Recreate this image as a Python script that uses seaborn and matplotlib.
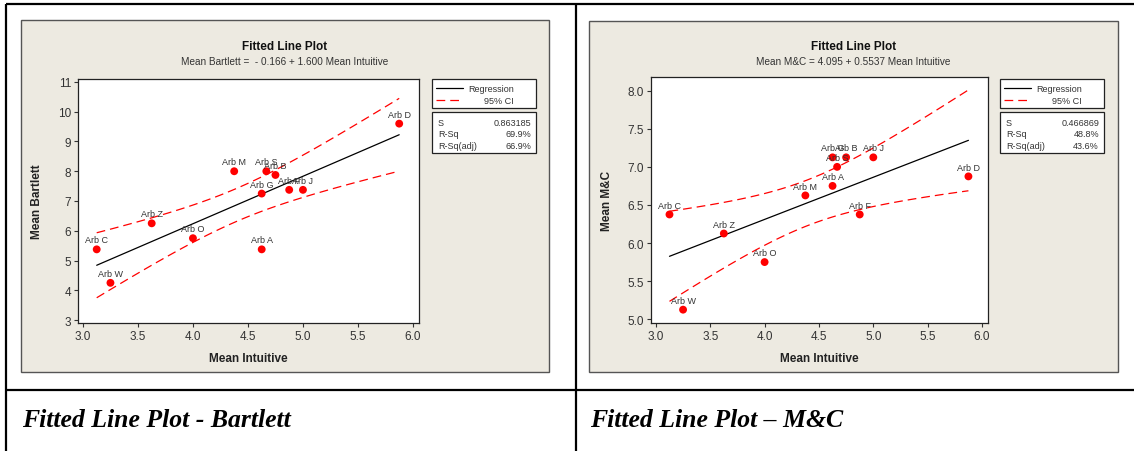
import numpy as np
import matplotlib
matplotlib.use("Agg")
import matplotlib.pyplot as plt
from matplotlib.patches import Rectangle
import seaborn as sns

W, H = 1134, 452

arb_names = ["Arb C", "Arb W", "Arb Z", "Arb O", "Arb M", "Arb A",
             "Arb G", "Arb S", "Arb B", "Arb J", "Arb F", "Arb D"]
mean_intuitive = [3.125, 3.25, 3.625, 4.0, 4.375, 4.625,
                  4.625, 4.667, 4.75, 5.0, 4.875, 5.875]
mean_bartlett = [5.375, 4.25, 6.25, 5.75, 8.0, 5.375,
                 7.25, 8.0, 7.875, 7.375, 7.375, 9.6]
mean_mc = [6.375, 5.125, 6.125, 5.75, 6.625, 6.75,
           7.125, 7.0, 7.125, 7.125, 6.375, 6.875]

x_ticks = [3.0, 3.5, 4.0, 4.5, 5.0, 5.5, 6.0]
bartlett_yticks = [3, 4, 5, 6, 7, 8, 9, 10, 11]
mc_yticks = [5.0, 5.5, 6.0, 6.5, 7.0, 7.5, 8.0]

stat_names = ["S", "R-Sq", "R-Sq(adj)"]
bartlett_stats = ["0.863185", "69.9%", "66.9%"]
mc_stats = ["0.466869", "48.8%", "43.6%"]
bartlett_eq = "Mean Bartlett =  - 0.166 + 1.600 Mean Intuitive"
mc_eq = "Mean M&C = 4.095 + 0.5537 Mean Intuitive"
captions = ["Fitted Line Plot - Bartlett", "Fitted Line Plot \u2013 M&C"]

sns.set_style("ticks")
plt.rcParams['font.family'] = ['Liberation Sans', 'DejaVu Sans']

PANEL = '#EDEAE1'
TXT = '#333333'


def ci_band(x, y, t=2.228):
    # 95% CI for the mean response (n-2 = 10 df)
    x = np.asarray(x)
    y = np.asarray(y)
    b, a = np.polyfit(x, y, 1)
    n = len(x)
    s = np.sqrt(np.sum((y - (a + b * x)) ** 2) / (n - 2))
    grid = np.linspace(x.min(), x.max(), 60)
    half = t * s * np.sqrt(1 / n + (grid - x.mean()) ** 2 / np.sum((x - x.mean()) ** 2))
    fit = a + b * grid
    return grid, fit - half, fit + half


def px_axes(fig, l, t, r, b):
    return fig.add_axes([l / W, 1 - b / H, (r - l) / W, (b - t) / H], zorder=2)


fig = plt.figure(figsize=(W / 100, H / 100), dpi=100)
bg = fig.add_axes([0, 0, 1, 1], zorder=0)
bg.set_xlim(0, W)
bg.set_ylim(H, 0)
bg.axis('off')

# table frame
for (x0, y0, x1, y1) in [(6, 5, 1134, 5), (6, 5, 6, 452), (576, 5, 576, 452), (6, 391, 1134, 391)]:
    bg.plot([x0, x1], [y0, y1], color='black', lw=1.6, solid_capstyle='butt')


def draw_panel(px0, panel, ax_box, yvals, yticks, ylim, yfmt, ylabel, eq, stats, caption, yl_x):
    # grey minitab panel
    bg.add_patch(Rectangle((panel[0], panel[1]), panel[2] - panel[0], panel[3] - panel[1],
                           facecolor=PANEL, edgecolor='#555555', lw=1))
    cx = (panel[0] + panel[2]) / 2
    bg.text(cx, 47, "Fitted Line Plot", ha='center', va='center', fontsize=8.5,
            fontweight='bold', color='#111111')
    bg.text(cx, 62, eq, ha='center', va='center', fontsize=7.2, color=TXT)

    # legend boxes
    lx = px0
    bg.add_patch(Rectangle((lx, 80), 104, 29, facecolor='white', edgecolor='#222222', lw=0.9))
    bg.plot([lx + 4, lx + 31], [89, 89], color='black', lw=0.9)
    bg.plot([lx + 4, lx + 31], [101, 101], color='red', lw=0.9, linestyle=(0, (7, 4)))
    bg.text(lx + 82, 89, "Regression", ha='right', va='center', fontsize=6.5, color=TXT)
    bg.text(lx + 82, 101, "95% CI", ha='right', va='center', fontsize=6.5, color=TXT)
    bg.add_patch(Rectangle((lx, 113), 104, 41, facecolor='white', edgecolor='#222222', lw=0.9))
    for i, (nm, val) in enumerate(zip(stat_names, stats)):
        bg.text(lx + 6, 123 + 12 * i, nm, ha='left', va='center', fontsize=6.5, color=TXT)
        bg.text(lx + 99, 123 + 12 * i, val, ha='right', va='center', fontsize=6.5, color=TXT)

    bg.text(panel[0] + 1, 421, caption, ha='left', va='center', fontsize=18.5,
            family='Liberation Serif', style='italic', fontweight='bold', color='black')

    ax = px_axes(fig, *ax_box)
    ax.set_facecolor('white')
    grid, lo, hi = ci_band(mean_intuitive, yvals)
    sns.regplot(x=mean_intuitive, y=yvals, scatter=False, ci=None, truncate=True,
                line_kws=dict(color='black', lw=0.9), ax=ax)
    sns.lineplot(x=grid, y=lo, color='red', lw=0.9, linestyle=(0, (7, 4)), ax=ax)
    sns.lineplot(x=grid, y=hi, color='red', lw=0.9, linestyle=(0, (7, 4)), ax=ax)
    sns.scatterplot(x=mean_intuitive, y=yvals, color='#FF0000', s=32, edgecolor='none',
                    zorder=4, ax=ax)
    for nm, xv, yv in zip(arb_names, mean_intuitive, yvals):
        ax.annotate(nm, (xv, yv), xytext=(0, 3.5), textcoords='offset points',
                    ha='center', va='bottom', fontsize=6.5, color=TXT, zorder=5)

    ax.set_xlim(2.955, 6.055)
    ax.set_ylim(*ylim)
    ax.set_xticks(x_ticks)
    ax.set_xticklabels([f"{v:.1f}" for v in x_ticks])
    ax.set_yticks(yticks)
    ax.set_yticklabels([yfmt.format(v) for v in yticks])
    ax.tick_params(direction='out', length=3, width=0.8, color='#333333',
                   labelsize=8.5, labelcolor=TXT, pad=2)
    for sp in ax.spines.values():
        sp.set_color('#222222')
        sp.set_linewidth(0.9)
    ax.set_xlabel("Mean Intuitive", fontsize=8.5, fontweight='bold', color='#222222')
    ax.set_ylabel(ylabel, fontsize=8.5, fontweight='bold', color='#222222')
    ax.xaxis.set_label_coords(0.5, -0.118)
    ax.yaxis.set_label_coords(yl_x, 0.5)
    return ax


draw_panel(432, (21, 21, 549, 373), (78, 80, 419, 324), mean_bartlett, bartlett_yticks,
           (2.9, 11.1), "{:d}", "Mean Bartlett", bartlett_eq, bartlett_stats, captions[0], -0.103)
draw_panel(1000, (589, 22, 1118, 373), (651, 78, 988, 324), mean_mc, mc_yticks,
           (4.95, 8.18), "{:.1f}", "Mean M&C", mc_eq, mc_stats, captions[1], -0.113)

fig.savefig("out.png", dpi=100)
